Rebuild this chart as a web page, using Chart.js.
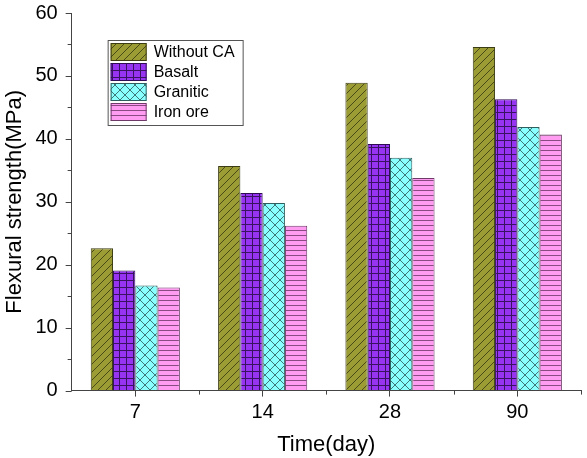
<!DOCTYPE html>
<html>
<head>
<meta charset="utf-8">
<script src="https://cdn.jsdelivr.net/npm/chart.js@4"></script>
<style>
  html, body { margin: 0; padding: 0; background: #fff; }
  #wrap { width: 587px; height: 458px; }
</style>
</head>
<body>
<div id="wrap"><canvas id="flexChart"></canvas></div>
<script>
const days = ['7', '14', '28', '90'];
const seriesNames = ['Without CA', 'Basalt', 'Granitic', 'Iron ore'];
const withoutCA = [22.6, 35.7, 48.9, 54.6];
const basalt = [19.1, 31.4, 39.2, 46.3];
const granitic = [16.7, 29.8, 37.0, 41.9];
const ironOre = [16.4, 26.2, 33.8, 40.7];

const FONT = "'Liberation Sans', Arial, sans-serif";
const AXIS = '#444';

// hatch patterns drawn on small tiles
function makePattern(kind) {
  const c = document.createElement('canvas');
  const ctx = c.getContext('2d');
  let s;
  if (kind === 'diag') {
    s = 8; c.width = s; c.height = s;
    ctx.fillStyle = '#9c9c34'; ctx.fillRect(0, 0, s, s);
    ctx.strokeStyle = '#4a4a18'; ctx.lineWidth = 1;
    ctx.beginPath();
    ctx.moveTo(0, s); ctx.lineTo(s, 0);
    ctx.moveTo(-s / 2, s / 2); ctx.lineTo(s / 2, -s / 2);
    ctx.moveTo(s / 2, s * 1.5); ctx.lineTo(s * 1.5, s / 2);
    ctx.stroke();
  } else if (kind === 'grid') {
    s = 7; c.width = s; c.height = s;
    ctx.fillStyle = '#9634f2'; ctx.fillRect(0, 0, s, s);
    ctx.fillStyle = '#3a1262';
    ctx.fillRect(0, 0, s, 1); ctx.fillRect(0, 0, 1, s);
  } else if (kind === 'cross') {
    s = 10; c.width = s; c.height = s;
    ctx.fillStyle = '#8affff'; ctx.fillRect(0, 0, s, s);
    ctx.strokeStyle = '#3f7878'; ctx.lineWidth = 1;
    ctx.beginPath();
    ctx.moveTo(0, 0); ctx.lineTo(s, s);
    ctx.moveTo(0, s); ctx.lineTo(s, 0);
    ctx.stroke();
  } else {
    s = 5; c.width = s; c.height = s;
    ctx.fillStyle = '#ff9cf2'; ctx.fillRect(0, 0, s, s);
    ctx.fillStyle = '#8a4a82';
    ctx.fillRect(0, 0, s, 1);
  }
  return ctx.createPattern(c, 'repeat');
}

const fills = [makePattern('diag'), makePattern('grid'), makePattern('cross'), makePattern('horiz')];
const borders = ['#3c3c14', '#2e0d55', '#2f6060', '#6e3a68'];
const values = [withoutCA, basalt, granitic, ironOre];

// y tick marks (major + minor), x minor ticks, legend box inside the plot
const extras = {
  id: 'extras',
  afterDraw(chart) {
    const ctx = chart.ctx;
    const x = chart.scales.x, y = chart.scales.y;
    const area = chart.chartArea;
    ctx.save();
    ctx.strokeStyle = AXIS; ctx.lineWidth = 1;
    ctx.beginPath();
    for (let v = 0; v <= 60; v += 5) {
      const py = Math.round(y.getPixelForValue(v)) + 0.5;
      const len = v % 10 === 0 ? 6 : 4;
      ctx.moveTo(area.left - len, py); ctx.lineTo(area.left, py);
    }
    for (let i = 1; i <= days.length; i++) {
      const px = Math.round(x.getPixelForValue(i - 0.5)) + 0.5;
      ctx.moveTo(px, area.bottom); ctx.lineTo(px, area.bottom + 4);
    }
    ctx.stroke();

    // legend
    const lx = area.left + 36, ly = area.top + 27, lw = 135, lh = 85;
    ctx.fillStyle = '#fff';
    ctx.fillRect(lx, ly, lw, lh);
    ctx.strokeStyle = '#555';
    ctx.strokeRect(lx + 0.5, ly + 0.5, lw, lh);
    ctx.font = '16px ' + FONT;
    ctx.textBaseline = 'middle';
    chart.data.datasets.forEach((ds, i) => {
      const sy = ly + 3 + i * 20;
      ctx.fillStyle = ds.backgroundColor;
      ctx.fillRect(lx + 3, sy, 36, 18);
      ctx.strokeStyle = ds.borderColor;
      ctx.strokeRect(lx + 3.5, sy + 0.5, 35, 17);
      ctx.fillStyle = '#000';
      ctx.fillText(ds.label, lx + 46, sy + 10);
    });
    ctx.restore();
  }
};

new Chart(document.getElementById('flexChart'), {
  type: 'bar',
  data: {
    labels: days,
    datasets: seriesNames.map((name, i) => ({
      label: name,
      data: values[i],
      backgroundColor: fills[i],
      borderColor: borders[i],
      borderWidth: 1,
      categoryPercentage: 0.7,
      barPercentage: 1.0
    }))
  },
  options: {
    responsive: true,
    maintainAspectRatio: false,
    animation: false,
    layout: { padding: { top: 0, right: 6, left: 0, bottom: 0 } },
    plugins: {
      legend: { display: false },
      tooltip: { enabled: false }
    },
    scales: {
      x: {
        offset: true,
        grid: { display: true, drawOnChartArea: false, offset: false, tickLength: 6, color: AXIS },
        border: { color: AXIS, width: 1 },
        ticks: { color: '#000', font: { family: FONT, size: 20 }, padding: 4 },
        title: { display: true, text: 'Time(day)', color: '#000', font: { family: FONT, size: 22 }, padding: { top: 3, bottom: 0 } }
      },
      y: {
        min: 0,
        max: 60,
        grid: { display: true, drawOnChartArea: false, tickLength: 13, tickColor: 'rgba(0,0,0,0)' },
        border: { color: AXIS, width: 1 },
        ticks: { stepSize: 10, color: '#000', font: { family: FONT, size: 20 }, padding: 1 },
        title: { display: true, text: 'Flexural strength(MPa)', color: '#000', font: { family: FONT, size: 22 }, padding: { top: 2, bottom: 6 } }
      }
    }
  },
  plugins: [extras]
});
</script>
</body>
</html>
